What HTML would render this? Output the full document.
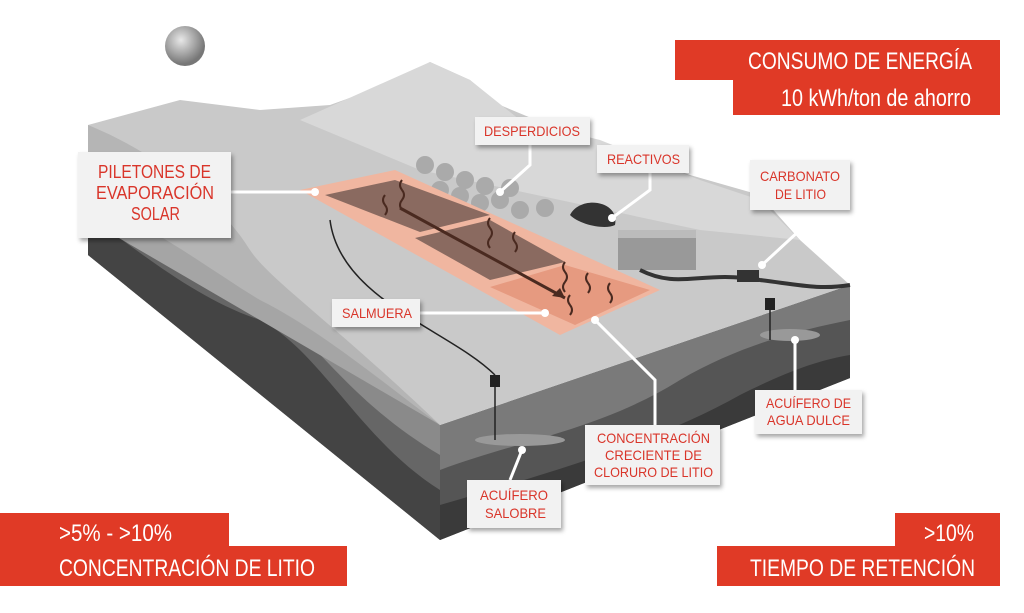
<!DOCTYPE html>
<html><head><meta charset="utf-8"><style>
html,body{margin:0;padding:0;background:#fff;width:1024px;height:613px;overflow:hidden}
svg{display:block}
.t{font-family:"Liberation Sans",sans-serif}
</style></head><body>
<svg width="1024" height="613" viewBox="0 0 1024 613" xmlns="http://www.w3.org/2000/svg">
<defs>
<filter id="sh" x="-10%" y="-10%" width="130%" height="140%"><feDropShadow dx="2" dy="3" stdDeviation="2" flood-color="#000" flood-opacity="0.35"/></filter>
<radialGradient id="moon" cx="40%" cy="35%" r="60%"><stop offset="0" stop-color="#e8e8e8"/><stop offset="1" stop-color="#777"/></radialGradient>
</defs>
<circle cx="185" cy="46" r="20" fill="url(#moon)"/>
<!-- left face -->
<polygon points="88,125 440,425 440,540 88,255" fill="#8a8a8a"/>
<path d="M88,170 C140,200 170,260 230,280 C300,310 330,390 440,455 L440,540 L88,255Z" fill="#666"/>
<path d="M88,215 C150,260 200,300 260,320 C320,350 360,440 440,490 L440,540 L88,255Z" fill="#444"/>
<!-- right face -->
<polygon points="440,425 850,285 850,378 440,540" fill="#7a7a7a"/>
<path d="M440,470 C520,440 600,430 680,380 C740,345 800,330 850,320 L850,378 L440,540Z" fill="#555"/>
<path d="M440,505 C560,470 660,440 740,395 C790,370 820,360 850,355 L850,378 L440,540Z" fill="#3a3a3a"/>
<ellipse cx="520" cy="440" rx="45" ry="6" fill="#999"/>
<ellipse cx="790" cy="335" rx="30" ry="6" fill="#999"/>
<!-- top face -->
<polygon points="88,125 180,100 260,110 330,105 400,80 430,62 470,80 500,105 560,130 620,150 690,175 760,195 800,240 850,285 440,425" fill="#c9c9c9"/>
<path d="M300,120 L430,62 L470,80 L520,120 L600,140 L700,180 L760,200 L800,240 L700,230 L560,200 L420,170Z" fill="#d8d8d8"/>
<path d="M88,125 C150,150 220,200 250,250 C270,280 330,320 440,425 L300,330 L88,200Z" fill="#b5b5b5"/>
<path d="M88,200 C160,230 210,270 260,300 C320,330 380,380 440,425 L88,220Z" fill="#a5a5a5"/>
<!-- trees -->
<g fill="#aaa">
<circle cx="425" cy="165" r="9"/><circle cx="445" cy="172" r="9"/><circle cx="465" cy="180" r="9"/><circle cx="485" cy="186" r="9"/>
<circle cx="440" cy="190" r="9"/><circle cx="460" cy="196" r="9"/><circle cx="480" cy="203" r="9"/><circle cx="500" cy="200" r="9"/>
<circle cx="520" cy="210" r="9"/><circle cx="545" cy="208" r="9"/><circle cx="510" cy="188" r="9"/>
</g>
<!-- ponds -->
<polygon points="300,190 395,170 660,290 560,335" fill="#f0b6a0"/>
<polygon points="325,195 395,180 490,215 420,232" fill="#8a6a60"/>
<polygon points="415,238 490,220 565,262 490,280" fill="#8a6a60"/>
<polygon points="490,287 565,265 650,290 575,325" fill="#e69a80"/>
<line x1="400" y1="208" x2="565" y2="298" stroke="#4a2a20" stroke-width="3"/>
<polygon points="565,298 552,296 560,288" fill="#4a2a20"/>
<g stroke="#4a2a20" stroke-width="2" fill="none">
<path d="M402,180 q-4,5 0,10 q4,5 0,10 q-4,5 0,10"/><path d="M385,195 q-4,5 0,10 q4,5 0,10"/>
<path d="M490,218 q-4,5 0,10 q4,5 0,10 q-4,5 0,10"/><path d="M515,232 q-4,5 0,10 q4,5 0,10"/>
<path d="M565,262 q-4,5 0,10 q4,5 0,10 q-4,5 0,10"/><path d="M588,273 q-4,5 0,10 q4,5 0,10"/>
<path d="M570,295 q-4,5 0,10 q4,5 0,10"/><path d="M610,283 q-4,5 0,10 q4,5 0,10"/>
</g>
<!-- plant -->
<rect x="618" y="236" width="78" height="34" fill="#999"/>
<rect x="618" y="230" width="78" height="8" fill="#bbb"/>
<path d="M570,215 C580,195 620,200 615,225 C605,230 580,225 570,215Z" fill="#333"/>
<path d="M640,270 C680,290 700,270 760,280 C800,285 820,290 850,285" stroke="#333" stroke-width="4" fill="none"/>
<rect x="737" y="270" width="22" height="12" fill="#333"/>
<rect x="765" y="298" width="10" height="12" fill="#222"/>
<rect x="490" y="375" width="10" height="12" fill="#222"/>
<path d="M495,387 L495,440 M770,310 L770,340" stroke="#222" stroke-width="1.5"/>
<path d="M330,220 C340,300 450,330 495,375" stroke="#222" stroke-width="1.5" fill="none"/>
<!-- connectors -->
<g stroke="#fff" stroke-width="3" fill="none">
<path d="M230,192 L315,192"/><path d="M530,145 L530,165 L500,192"/>
<path d="M650,172 L650,190 L612,218"/><path d="M800,210 L800,230 L762,265"/>
<path d="M420,313 L545,313"/><path d="M595,320 L655,380 L655,425"/>
<path d="M795,390 L795,340"/><path d="M510,480 L522,450"/>
</g>
<g fill="#fff"><circle cx="315" cy="192" r="4"/><circle cx="500" cy="192" r="4"/><circle cx="612" cy="218" r="4"/><circle cx="762" cy="265" r="4"/><circle cx="545" cy="313" r="4"/><circle cx="595" cy="320" r="4"/><circle cx="795" cy="340" r="4"/><circle cx="522" cy="450" r="4"/></g>
<!-- labels -->
<g filter="url(#sh)" fill="#f2f2f2">
<rect x="78" y="152" width="153" height="86"/>
<rect x="475" y="117" width="115" height="28"/>
<rect x="597" y="145" width="92" height="28"/>
<rect x="750" y="160" width="100" height="50"/>
<rect x="332" y="299" width="88" height="28"/>
<rect x="585" y="425" width="135" height="60"/>
<rect x="755" y="390" width="107" height="44"/>
<rect x="467" y="480" width="94" height="48"/>
</g>
<g class="t" fill="#d9352a" font-size="14" lengthAdjust="spacingAndGlyphs">
<text x="98" y="178" font-size="18" textLength="113" lengthAdjust="spacingAndGlyphs">PILETONES DE</text>
<text x="96" y="199" font-size="18" textLength="118" lengthAdjust="spacingAndGlyphs">EVAPORACIÓN</text>
<text x="131" y="220" font-size="18" textLength="49" lengthAdjust="spacingAndGlyphs">SOLAR</text>
<text x="484" y="136" textLength="96" lengthAdjust="spacingAndGlyphs">DESPERDICIOS</text>
<text x="607" y="164" textLength="73" lengthAdjust="spacingAndGlyphs">REACTIVOS</text>
<text x="760" y="181" textLength="80" lengthAdjust="spacingAndGlyphs">CARBONATO</text>
<text x="775" y="199" textLength="51" lengthAdjust="spacingAndGlyphs">DE LITIO</text>
<text x="342" y="318" textLength="70" lengthAdjust="spacingAndGlyphs">SALMUERA</text>
<text x="597" y="443" textLength="113" lengthAdjust="spacingAndGlyphs">CONCENTRACIÓN</text>
<text x="605" y="460" textLength="97" lengthAdjust="spacingAndGlyphs">CRECIENTE DE</text>
<text x="594" y="477" textLength="119" lengthAdjust="spacingAndGlyphs">CLORURO DE LITIO</text>
<text x="766" y="408" textLength="85" lengthAdjust="spacingAndGlyphs">ACUÍFERO DE</text>
<text x="767" y="425" textLength="83" lengthAdjust="spacingAndGlyphs">AGUA DULCE</text>
<text x="480" y="500" textLength="68" lengthAdjust="spacingAndGlyphs">ACUÍFERO</text>
<text x="485" y="518" textLength="61" lengthAdjust="spacingAndGlyphs">SALOBRE</text>
</g>
<!-- red banners -->
<g fill="#e03a26">
<rect x="675" y="40" width="325" height="40"/><rect x="733" y="79" width="267" height="36"/>
<rect x="0" y="513" width="229" height="34"/><rect x="0" y="546" width="347" height="40"/>
<rect x="895" y="513" width="105" height="34"/><rect x="717" y="546" width="283" height="40"/>
</g>
<g class="t" fill="#fff" font-size="24">
<text x="748" y="69" textLength="224" lengthAdjust="spacingAndGlyphs">CONSUMO DE ENERGÍA</text>
<text x="781" y="106" textLength="190" lengthAdjust="spacingAndGlyphs">10 kWh/ton de ahorro</text>
<text x="59" y="541" textLength="113" lengthAdjust="spacingAndGlyphs">&gt;5% -  &gt;10%</text>
<text x="59" y="576" textLength="256" lengthAdjust="spacingAndGlyphs">CONCENTRACIÓN DE LITIO</text>
<text x="924" y="541" textLength="50" lengthAdjust="spacingAndGlyphs">&gt;10%</text>
<text x="750" y="576" textLength="225" lengthAdjust="spacingAndGlyphs">TIEMPO DE RETENCIÓN</text>
</g>
</svg>
</body></html>
